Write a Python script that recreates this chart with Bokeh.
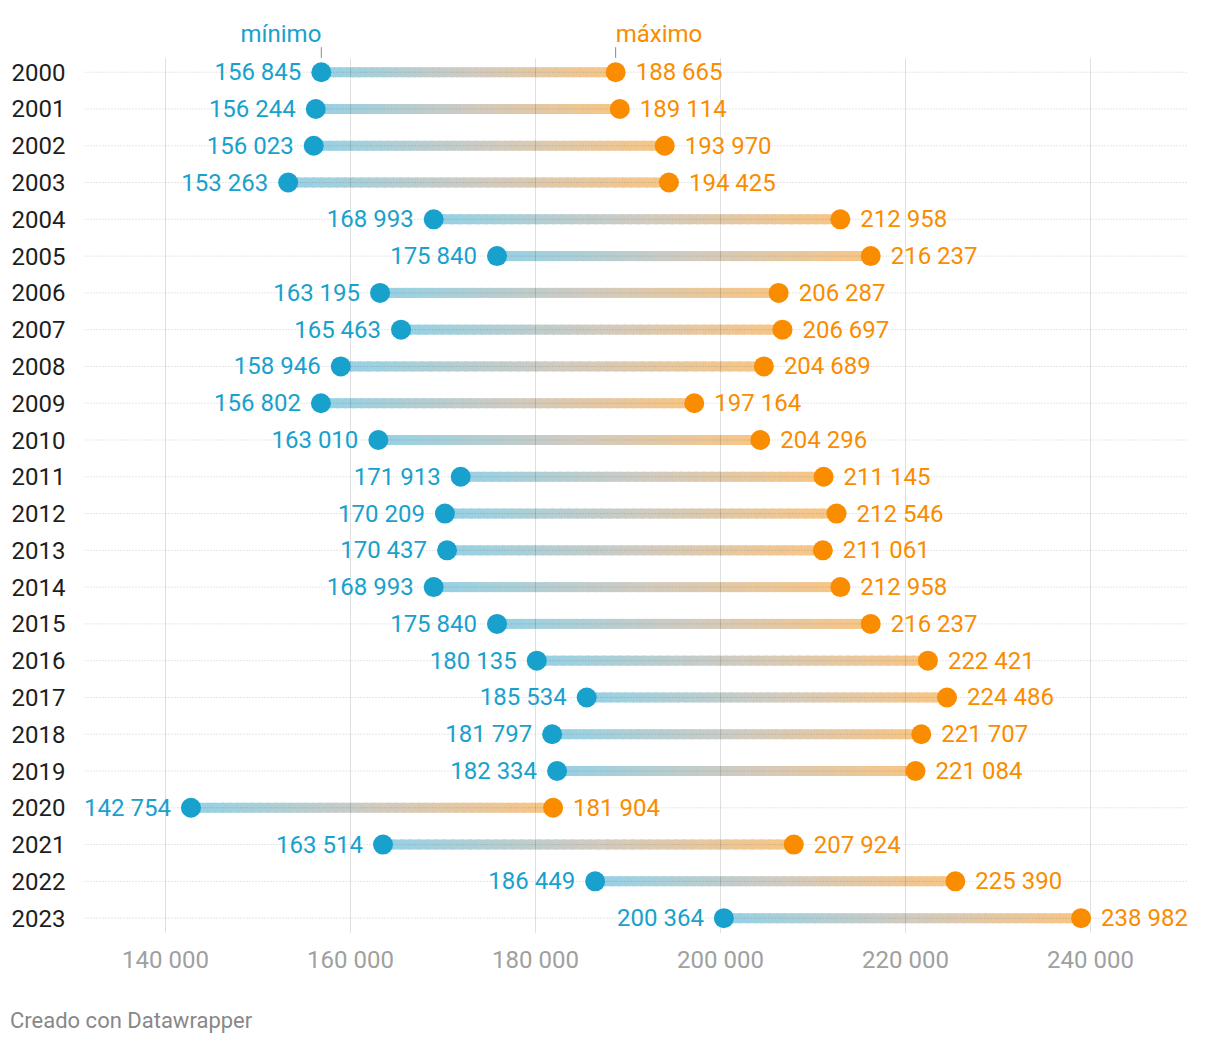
from bokeh.plotting import figure
from bokeh.models import Range1d, FixedTicker, ColumnDataSource, Div
from bokeh.layouts import column
from bokeh.core.properties import value
from bokeh.embed import file_html
from bokeh.resources import INLINE

# ---------------- data ----------------
years = [2000, 2001, 2002, 2003, 2004, 2005, 2006, 2007, 2008, 2009, 2010, 2011,
         2012, 2013, 2014, 2015, 2016, 2017, 2018, 2019, 2020, 2021, 2022, 2023]
min_vals = [156845, 156244, 156023, 153263, 168993, 175840, 163195, 165463,
            158946, 156802, 163010, 171913, 170209, 170437, 168993, 175840,
            180135, 185534, 181797, 182334, 142754, 163514, 186449, 200364]
max_vals = [188665, 189114, 193970, 194425, 212958, 216237, 206287, 206697,
            204689, 197164, 204296, 211145, 212546, 211061, 212958, 216237,
            222421, 224486, 221707, 221084, 181904, 207924, 225390, 238982]
x_ticks = [140000, 160000, 180000, 200000, 220000, 240000]
tick_labels = ["140 000", "160 000", "180 000", "200 000", "220 000", "240 000"]
min_name = "mínimo"
max_name = "máximo"
footer_text = "Creado con Datawrapper"

# ---------------- styles ----------------
FONT = "Roboto"
BLUE = "#18a1cd"
ORANGE = "#fa8c00"

def fmt(v):
    return f"{v:,}".replace(",", " ")

rows = list(range(len(years)))

p = figure(width=1212, height=1000, output_backend="svg", toolbar_location=None,
           x_range=Range1d(131243, 253189), y_range=Range1d(23.418, -1.406),
           min_border_left=84, min_border_right=0, min_border_top=20,
           min_border_bottom=67)
p.outline_line_color = None
p.xgrid.visible = False
p.ygrid.visible = False
p.background_fill_color = "white"
p.border_fill_color = "white"

# gradient bars
stops = [(0.0, (148, 209, 229)), (0.5, (207, 203, 194)), (1.0, (249, 197, 132))]

def grad(t):
    for (t0, c0), (t1, c1) in zip(stops[:-1], stops[1:]):
        if t <= t1:
            f = (t - t0) / (t1 - t0)
            return "#%02x%02x%02x" % tuple(int(round(a + (b - a) * f)) for a, b in zip(c0, c1))
    return "#%02x%02x%02x" % stops[-1][1]

N = 48
sx0, sx1, sy, sc = [], [], [], []
for i, (mn, mx) in enumerate(zip(min_vals, max_vals)):
    step = (mx - mn) / N
    for j in range(N):
        sx0.append(mn + step * j)
        sx1.append(min(mx, mn + step * (j + 1.4)))
        sy.append(i)
        sc.append(grad((j + 0.5) / N))
p.segment(x0=sx0, x1=sx1, y0=sy, y1=sy, line_color=sc, line_width=10, line_cap="butt")

# grid lines, translucent so they show through the bars like the original
GRID_Y0, GRID_Y1 = -0.381, 23.40
p.segment(x0=x_ticks, x1=x_ticks, y0=[GRID_Y0] * len(x_ticks), y1=[GRID_Y1] * len(x_ticks),
          line_color="black", line_alpha=0.12, line_width=1)
DOT_X0, DOT_X1 = 131243, 250378
p.segment(x0=[DOT_X0] * len(rows), x1=[DOT_X1] * len(rows), y0=rows, y1=rows,
          line_color="black", line_alpha=0.2, line_width=1, line_dash="1 2")

src = ColumnDataSource(dict(y=rows, mn=min_vals, mx=max_vals,
                            mnl=[fmt(v) for v in min_vals], mxl=[fmt(v) for v in max_vals]))

p.scatter(x="mn", y="y", source=src, size=20, fill_color=BLUE, line_color=None)
p.scatter(x="mx", y="y", source=src, size=20, fill_color=ORANGE, line_color=None)

p.text(x="mn", y="y", text="mnl", source=src, x_offset=-20, text_align="right",
       text_baseline="middle", text_color=BLUE, text_font=value(FONT), text_font_size="24px")
p.text(x="mx", y="y", text="mxl", source=src, x_offset=20, text_align="left",
       text_baseline="middle", text_color=ORANGE, text_font=value(FONT), text_font_size="24px")

# header annotations above first row
HEAD_Y = -1.03
p.text(x=[min_vals[0]], y=[HEAD_Y], text=[min_name], text_align="right", text_baseline="middle",
       text_color=BLUE, text_font=value(FONT), text_font_size="24px")
p.text(x=[max_vals[0]], y=[HEAD_Y], text=[max_name], text_align="left", text_baseline="middle",
       text_color=ORANGE, text_font=value(FONT), text_font_size="24px")
p.segment(x0=[min_vals[0], max_vals[0]], x1=[min_vals[0], max_vals[0]],
          y0=[-0.68, -0.68], y1=[-0.39, -0.39], line_color="#888888", line_width=1)

# axes
ya = p.yaxis[0]
ya.ticker = FixedTicker(ticks=rows)
ya.major_label_overrides = {r: str(y) for r, y in zip(rows, years)}
ya.axis_line_color = None
ya.major_tick_line_color = None
ya.minor_tick_line_color = None
ya.major_tick_out = 0
ya.major_tick_in = 0
ya.major_label_standoff = 19
ya.major_label_text_font = FONT
ya.major_label_text_font_size = "24px"
ya.major_label_text_color = "#1e1e1e"

xa = p.xaxis[0]
xa.ticker = FixedTicker(ticks=x_ticks)
xa.major_label_overrides = dict(zip(x_ticks, tick_labels))
xa.axis_line_color = None
xa.major_tick_line_color = None
xa.minor_tick_line_color = None
xa.major_tick_out = 0
xa.major_tick_in = 0
xa.major_label_standoff = 12
xa.major_label_text_font = FONT
xa.major_label_text_font_size = "24px"
xa.major_label_text_color = "#a0a0a0"

foot = Div(text=footer_text, width=1212, height=40,
           styles={"font-family": "Roboto", "font-size": "22px", "color": "#888888",
                   "padding-left": "5px", "padding-top": "3px", "line-height": "26px"})

layout = column(p, foot, spacing=0)
open("out.html", "w").write(file_html(layout, INLINE))
